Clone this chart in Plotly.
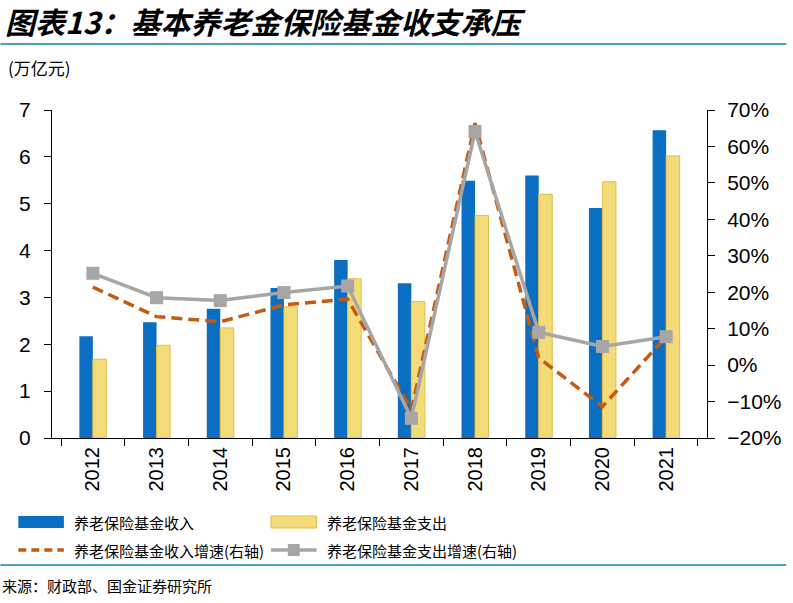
import plotly.graph_objects as go

years = ["2012", "2013", "2014", "2015", "2016", "2017", "2018", "2019", "2020", "2021"]
income = [2.17, 2.47, 2.76, 3.20, 3.80, 3.30, 5.49, 5.60, 4.91, 6.57]
expense = [1.68, 1.98, 2.35, 2.80, 3.40, 2.91, 4.75, 5.20, 5.47, 6.02]
income_growth = [0.214, 0.133, 0.119, 0.165, 0.181, -0.123, 0.664, 0.020, -0.114, 0.078]
expense_growth = [0.252, 0.185, 0.177, 0.199, 0.217, -0.146, 0.641, 0.090, 0.051, 0.078]

left_ticks = [0, 1, 2, 3, 4, 5, 6, 7]
right_ticks = [-0.2, -0.1, 0, 0.1, 0.2, 0.3, 0.4, 0.5, 0.6, 0.7]

BLUE = "#0a6fc2"
YELLOW = "#f3dc78"
YELLOW_EDGE = "#e5bd48"
ORANGE = "#c55a11"
GREY = "#a6a6a6"
RULE = "#4f9fc4"

WIDTH, HEIGHT = 793, 603
L, R, T, B = 52, 80, 110, 165
PW = WIDTH - L - R
PH = HEIGHT - T - B

CJK = "Noto Sans CJK SC"
LAT = "Liberation Sans"


def px(x):
    return (x - L) / PW


def py(y):
    return (T + PH - y) / PH


fig = go.Figure()
fig.add_trace(go.Bar(x=years, y=income, name="养老保险基金收入",
                     marker=dict(color=BLUE, line=dict(width=0))))
fig.add_trace(go.Bar(x=years, y=expense, name="养老保险基金支出",
                     marker=dict(color=YELLOW, line=dict(color=YELLOW_EDGE, width=1))))
fig.add_trace(go.Scatter(x=years, y=income_growth, yaxis="y2", mode="lines",
                         name="养老保险基金收入增速(右轴)",
                         line=dict(color=ORANGE, width=3.5, dash="11px,6px")))
fig.add_trace(go.Scatter(x=years, y=expense_growth, yaxis="y2", mode="lines+markers",
                         name="养老保险基金支出增速(右轴)",
                         line=dict(color=GREY, width=3.5),
                         marker=dict(symbol="square", size=13, color=GREY)))

fig.update_layout(
    width=WIDTH, height=HEIGHT,
    margin=dict(l=L, r=R, t=T, b=B),
    paper_bgcolor="white", plot_bgcolor="white",
    barmode="group", bargap=0.576, bargroupgap=0,
    showlegend=False,
    font=dict(family=LAT, size=20, color="black"),
    xaxis=dict(
        type="category", tickangle=-90, tickson="boundaries",
        ticks="outside", ticklen=7, tickcolor="black",
        showline=True, linecolor="black", linewidth=1,
        showgrid=False, tickfont=dict(family=LAT, size=20),
    ),
    yaxis=dict(
        range=[0, 7], tickvals=left_ticks, ticks="outside", ticklen=7,
        tickcolor="black", showline=True, linecolor="black", linewidth=1,
        showgrid=False, zeroline=False, ticklabelstandoff=9,
        tickfont=dict(family=LAT, size=21),
    ),
    yaxis2=dict(
        overlaying="y", side="right", range=[-0.2, 0.7], tickvals=right_ticks,
        tickformat=".0%", ticks="outside", ticklen=7, tickcolor="black",
        showline=True, linecolor="black", linewidth=1, showgrid=False,
        zeroline=False, ticklabelstandoff=8,
        tickfont=dict(family=LAT, size=21),
    ),
)

# title, unit, source
fig.add_annotation(text="<b><i>图表13：基本养老金保险基金收支承压</i></b>",
                   xref="paper", yref="paper", x=px(3), y=py(21),
                   xanchor="left", yanchor="middle", showarrow=False,
                   font=dict(family=CJK, size=30, color="black"))
fig.add_annotation(text="(万亿元)", xref="paper", yref="paper", x=px(6), y=py(67),
                   xanchor="left", yanchor="middle", showarrow=False,
                   font=dict(family=CJK, size=17, color="black"))
fig.add_annotation(text="来源：财政部、国金证券研究所", xref="paper", yref="paper",
                   x=px(0), y=py(585), xanchor="left", yanchor="middle",
                   showarrow=False, font=dict(family=CJK, size=15, color="black"))

# rules
fig.add_shape(type="line", xref="paper", yref="paper", x0=px(0), x1=px(WIDTH),
              y0=py(44), y1=py(44), line=dict(color=RULE, width=2))
fig.add_shape(type="line", xref="paper", yref="paper", x0=px(0), x1=px(WIDTH),
              y0=py(565), y1=py(565), line=dict(color=RULE, width=2))

# legend
legend_font = dict(family=CJK, size=15, color="black")
rows = [522, 550]
cols = [18, 273]
fig.add_shape(type="rect", xref="paper", yref="paper",
              x0=px(cols[0]), x1=px(cols[0] + 46), y0=py(rows[0] - 6), y1=py(rows[0] + 6),
              fillcolor=BLUE, line=dict(width=0))
fig.add_shape(type="rect", xref="paper", yref="paper",
              x0=px(cols[1]), x1=px(cols[1] + 46), y0=py(rows[0] - 6), y1=py(rows[0] + 6),
              fillcolor=YELLOW, line=dict(color=YELLOW_EDGE, width=1))
fig.add_shape(type="line", xref="paper", yref="paper",
              x0=px(cols[0]), x1=px(cols[0] + 46), y0=py(rows[1]), y1=py(rows[1]),
              line=dict(color=ORANGE, width=3.5, dash="8px,5px"))
fig.add_shape(type="line", xref="paper", yref="paper",
              x0=px(cols[1]), x1=px(cols[1] + 46), y0=py(rows[1]), y1=py(rows[1]),
              line=dict(color=GREY, width=3.5))
fig.add_shape(type="rect", xref="paper", yref="paper",
              x0=px(cols[1] + 17), x1=px(cols[1] + 29), y0=py(rows[1] - 6), y1=py(rows[1] + 6),
              fillcolor=GREY, line=dict(width=0))

labels = [fig.data[0].name, fig.data[1].name, fig.data[2].name, fig.data[3].name]
spots = [(cols[0], rows[0]), (cols[1], rows[0]), (cols[0], rows[1]), (cols[1], rows[1])]
for lab, (cx, cy) in zip(labels, spots):
    fig.add_annotation(text=lab, xref="paper", yref="paper", x=px(cx + 54), y=py(cy),
                       xanchor="left", yanchor="middle", showarrow=False, font=legend_font)

# the page's default 8px body margin would shift the whole chart
fig.write_html("out.html", config={"displayModeBar": False},
               post_script="document.body.style.margin='0';")
